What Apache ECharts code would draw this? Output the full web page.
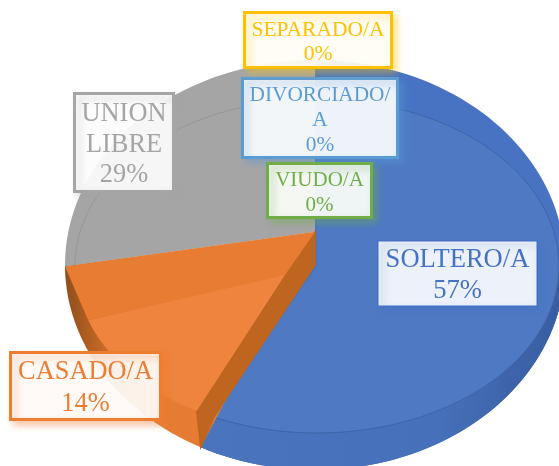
<!DOCTYPE html>
<html>
<head>
<meta charset="utf-8">
<title>Estado civil</title>
<style>
  html, body { margin: 0; padding: 0; background: #fff; }
  #chart { width: 559px; height: 466px; }
</style>
<script src="https://cdn.jsdelivr.net/npm/echarts@6/dist/echarts.min.js"></script>
</head>
<body>
<div id="chart"></div>
<script>
// data
const categories = ['SOLTERO/A', 'CASADO/A', 'UNION LIBRE', 'DIVORCIADO/A', 'SEPARADO/A', 'VIUDO/A']
const shares = [57, 14, 29, 0, 0, 0]
const labelLines = [['SOLTERO/A'], ['CASADO/A'], ['UNION', 'LIBRE'], ['DIVORCIADO/', 'A'], ['SEPARADO/A'], ['VIUDO/A']]
const labelColors = ['#4472C4', '#ED7D31', '#A5A5A5', '#5B9BD5', '#FFC000', '#70AD47']

// projection of the tilted pie
const outer = { cx: 315, cy: 265, rx: 250, ry: 205 }  // silhouette
const rim = { cx: 317, cy: 266, rx: 242, ry: 167 }    // edge of the top face
const backApex = [315, 232]
const frontApex = [315, 265]
const liftedApex = [285, 275]
const faceInset = 4.6
const backSkew = 14
const frontSkew = 2

// label boxes: x, y, w, h, font size, line height, border width
const boxes = [
  [377, 240, 161, 67, 26.6, 31, 1.5],
  [9, 351, 153, 70, 26.4, 32, 3],
  [73, 92, 102, 101, 26.4, 30.5, 3],
  [241, 77, 158, 82, 21.3, 25, 3],
  [243, 11, 150, 58, 21.5, 24, 3],
  [266, 162, 107, 57, 21, 25, 3]
]

const point = (e, deg) => {
  const t = deg * Math.PI / 180
  return [e.cx + e.rx * Math.sin(t), e.cy - e.ry * Math.cos(t)]
}
const arc = (e, from, to) => {
  const pts = []
  const n = Math.max(2, Math.ceil(Math.abs(to - from) / 2))
  for (let i = 0; i <= n; i++) pts.push(point(e, from + (to - from) * i / n))
  return pts
}
const poly = (points, fill, z2, seam) => ({
  type: 'polygon', z2, silent: true,
  shape: { points },
  style: seam ? { fill, stroke: fill, lineWidth: 1.5 } : { fill, stroke: null }
})
const line = (points, stroke, z2) => ({
  type: 'polyline', z2, silent: true,
  shape: { points },
  style: { fill: null, stroke, lineWidth: 1 }
})
const hGrad = (stops) => new echarts.graphic.LinearGradient(0, 0, 1, 0,
  stops.map(([offset, color]) => ({ offset, color })), false)

const total = shares.reduce((a, b) => a + b, 0)
const startAngles = shares.map((_, i) => shares.slice(0, i).reduce((a, b) => a + b, 0) / total * 360)

function sliceShapes(i, value) {
  const a0 = startAngles[i]
  const a1 = a0 + value / total * 360
  if (i === 0) {
    const wallFrom = 90
    return [
      // base runs under the top face and up to the orange cut so no background shows through
      poly([frontApex, ...arc(outer, a0, a1 + frontSkew), point(rim, a1)], '#4873C3', 10),
      poly([...arc(rim, wallFrom, a1), ...arc(outer, a1 + frontSkew, wallFrom)],
        hGrad([[0, '#4A74BE'], [0.65, '#4670BA'], [1, '#375CA0']]), 11),
      poly([[rim.cx, rim.cy], ...arc(rim, a0, a1)], '#4F79C3', 12),
      line(arc(rim, a0, a1), '#3F64A8', 13)
    ]
  }
  if (i === 1) {
    const outerStart = a0 + frontSkew
    const outerEnd = a1 + backSkew
    const faceArc = arc(rim, a0 + faceInset, a1 - faceInset)
    return [
      poly([backApex, ...arc(outer, outerStart, outerEnd)],
        hGrad([[0, '#8F4E1C'], [0.16, '#C96A26'], [0.36, '#E67C33'], [1, '#E67C33']]), 20),
      poly([backApex, frontApex, point(rim, a0), point(outer, outerStart), faceArc[0], liftedApex], '#BE651F', 21, true),
      poly([backApex, point(outer, outerEnd), faceArc[faceArc.length - 1], liftedApex], '#E77C32', 22),
      poly([liftedApex, ...faceArc], '#EE843D', 23)
    ]
  }
  if (i === 2) {
    return [
      poly([backApex, ...arc(outer, a0 + backSkew, a1)], '#A5A5A5', 5),
      line(arc(rim, a0 + 2, a1), '#969696', 6)
    ]
  }
  return []
}

function labelShapes(i, value) {
  const [x, y, w, h, size, lh, bw] = boxes[i]
  const color = labelColors[i]
  const text = [...labelLines[i], value + '%'].join('\n')
  return [
    {
      type: 'rect', z2: 40, silent: true,
      shape: { x: x + bw / 2, y: y + bw / 2, width: w - bw, height: h - bw },
      style: {
        fill: 'rgba(255,255,255,0.9)', stroke: color, lineWidth: bw,
        shadowBlur: 7, shadowOffsetX: 4, shadowOffsetY: 4, shadowColor: echarts.color.modifyAlpha(color, 0.45)
      }
    },
    {
      type: 'text', z2: 41, silent: true,
      style: {
        x: x + w / 2, y: y + h / 2 + 2.5, text, align: 'center', verticalAlign: 'middle',
        fill: color, fontFamily: '"Liberation Serif", serif', fontSize: size, lineHeight: lh
      }
    }
  ]
}

const myChart = echarts.init(document.getElementById('chart'), null, { renderer: 'canvas' })
myChart.setOption({
  animation: false,
  backgroundColor: '#fff',
  series: [{
    type: 'custom',
    name: 'Estado civil',
    coordinateSystem: 'none',
    silent: true,
    data: categories.map((name, i) => ({ name, value: [shares[i]] })),
    renderItem: (params, api) => {
      const value = api.value(0)
      return {
        type: 'group',
        children: [...sliceShapes(params.dataIndex, value), ...labelShapes(params.dataIndex, value)]
      }
    }
  }]
})
</script>
</body>
</html>
